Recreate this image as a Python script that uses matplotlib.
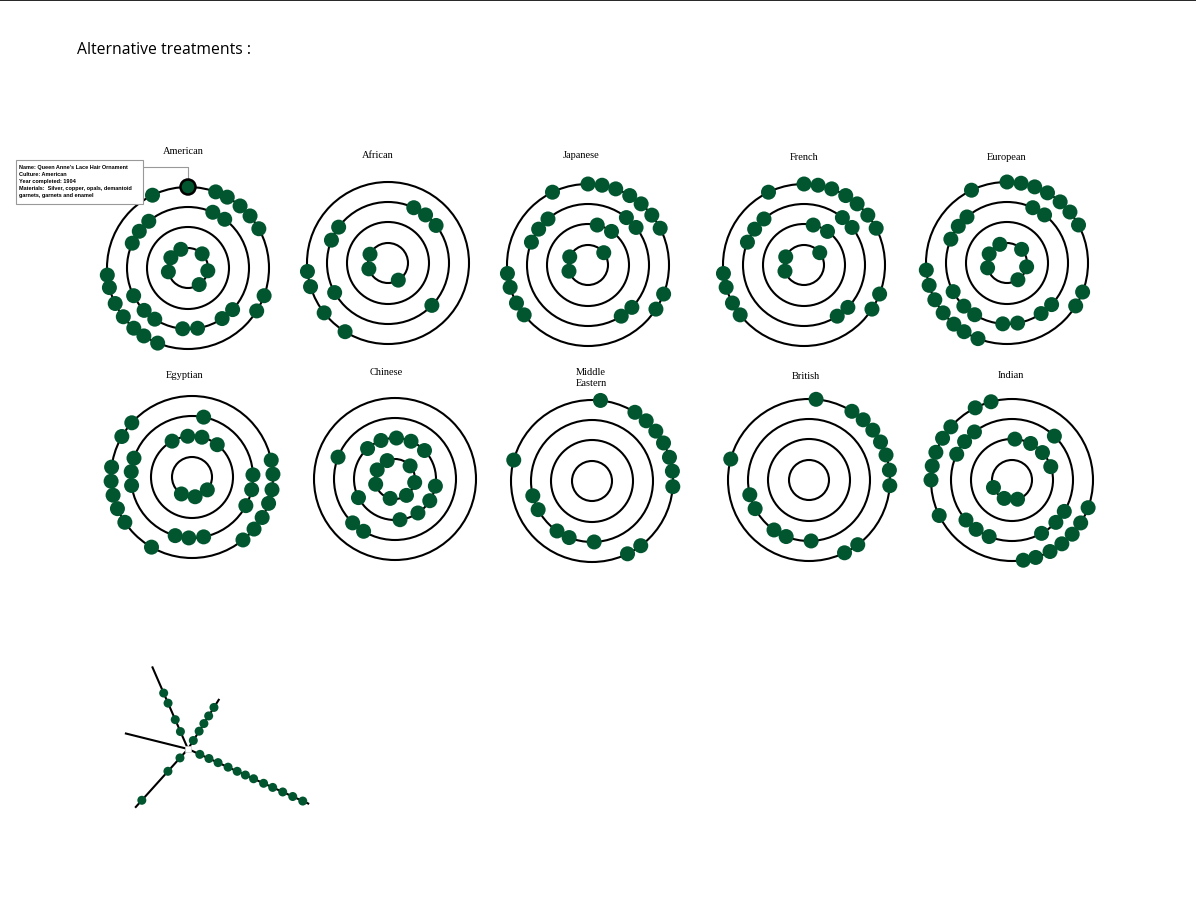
import math
import matplotlib
matplotlib.use("Agg")
import matplotlib.pyplot as plt
from matplotlib.patches import Circle, Rectangle

# ---- data: dot angles (deg, clockwise from 12 o'clock) per ring ----
# ring order: inner, 2nd, 3rd, outer
cultures = ["American", "African", "Japanese", "French", "European",
            "Egyptian", "Chinese", "Middle\nEastern", "British", "Indian"]

american = [[339, 301, 259, 45, 98, 146],
            [],
            [24, 37, 320, 307, 294, 243, 226, 213, 185, 171, 146, 133],
            [334, 0, 20, 29, 40, 50, 61, 110, 122, 202, 213, 222, 233, 244, 256, 265]]
african = [[296, 253, 149],
           [],
           [25, 38, 52, 306, 292, 241, 134],
           [264, 253, 232, 212]]
japanese = [[52, 294, 252],
            [13, 35],
            [39, 52, 319, 306, 292, 147, 134],
            [334, 0, 10, 20, 31, 41, 52, 63, 111, 123, 232, 242, 254, 264]]
french = [[52, 294, 252],
          [13, 35],
          [39, 52, 319, 306, 292, 147, 134],
          [334, 0, 10, 20, 31, 41, 52, 63, 111, 123, 232, 242, 254, 264]]
european = [[339, 297, 256, 47, 101, 147],
            [],
            [25, 38, 319, 307, 293, 242, 225, 212, 184, 170, 146, 133],
            [334, 0, 10, 20, 30, 41, 51, 62, 111, 122, 201, 212, 221, 232, 243, 254, 265]]
egyptian = [[212, 171, 130],
            [331, 354, 14, 38],
            [11, 288, 275, 262, 196, 183, 169, 88, 102, 118],
            [312, 300, 277, 267, 257, 247, 236, 210, 78, 88, 99, 109, 120, 130, 141]]
chinese = [[337, 297, 255, 194, 145, 100, 49],
           [318, 340, 2, 23, 46, 100, 122, 146, 173, 243],
           [291, 224, 211],
           []]
middle_eastern = [[],
                  [],
                  [256, 242, 215, 202, 178],
                  [6, 32, 42, 52, 62, 73, 83, 94, 143, 154, 285]]
british = [[],
           [],
           [256, 242, 215, 202, 178],
           [5, 32, 42, 52, 62, 72, 83, 94, 143, 154, 285]]
indian = [[248, 203, 164],
          [4, 27, 48, 71],
          [44, 322, 309, 295, 229, 216, 202, 151, 134, 121],
          [345, 333, 311, 301, 290, 280, 270, 244, 110, 122, 132, 142, 152, 163, 172]]
culture_dots = [american, african, japanese, french, european,
                egyptian, chinese, middle_eastern, british, indian]

tooltip_lines = ["Name: Queen Anne's Lace Hair Ornament",
                 "Culture: American",
                 "Year completed: 1904",
                 "Materials:  Silver, copper, opals, demantoid",
                 "garnets, garnets and enamel"]

# spoke chart at the bottom: direction (deg, ccw from east), length, dot distances
spoke_angles = [113.5, 58, 166, 228, 335.6]
spoke_lengths = [89, 58, 64, 78, 132]
spoke_dots = [[19, 32, 50, 61],
              [10, 21, 30, 39, 49],
              [],
              [12, 30, 69],
              [13, 23, 33, 44, 54, 63, 72, 83, 93, 104, 115, 126]]

GREEN = "#01562f"
ring_radii = [20, 41, 61, 81]
dot_r = 7.5

# (center x, center y, title x, title y) per panel
layout = [(188, 268, 183, 152), (388, 263, 378, 155), (588, 265, 581, 155),
          (804, 265, 804, 158), (1007, 263, 1007, 158),
          (192, 477, 185, 375), (395, 479, 386, 372), (592, 481, 591, 378),
          (809, 480, 806, 376), (1012, 480, 1011, 375)]

fig = plt.figure(figsize=(11.96, 9.22), dpi=100)
ax = fig.add_axes([0, 0, 1, 1])
ax.set_xlim(0, 1196)
ax.set_ylim(922, 0)
ax.axis("off")

ax.plot([0, 1196], [0.5, 0.5], color="black", lw=1.2)
ax.text(77, 50, "Alternative treatments :", fontsize=11.3, family="Open Sans",
        fontweight="medium", ha="left", va="center", color="black")

for name, rings, (cx, cy, tx, ty) in zip(cultures, culture_dots, layout):
    ax.text(tx, ty, name, fontsize=7.5, family="Liberation Serif", ha="center",
            va="center", linespacing=1.25)
    for r in ring_radii:
        ax.add_patch(Circle((cx, cy), r, fill=False, ec="black", lw=1.5, zorder=2))
    for r, angles in zip(ring_radii, rings):
        for a in angles:
            t = math.radians(a)
            x = cx + r * math.sin(t)
            y = cy - r * math.cos(t)
            ax.add_patch(Circle((x, y), dot_r, color=GREEN, lw=0, zorder=3))

# highlighted dot + tooltip on American
hx, hy = layout[0][0], layout[0][1] - ring_radii[3]
ax.add_patch(Circle((hx, hy), dot_r, fc=GREEN, ec="black", lw=1.8, zorder=4))
ax.plot([143, hx, hx], [167, 167, hy - dot_r], color="#999999", lw=0.8, zorder=3)
ax.add_patch(Rectangle((16, 160), 127, 44, fc="white", ec="#999999", lw=0.8, zorder=5))
for i, line in enumerate(tooltip_lines):
    ax.text(19, 167 + i * 7.2, line, fontsize=4, fontweight="bold",
            family="Liberation Sans", ha="left", va="center", zorder=6)

# spoke chart
sx, sy = 188, 749
for ang, ln, dots in zip(spoke_angles, spoke_lengths, spoke_dots):
    ux, uy = math.cos(math.radians(ang)), -math.sin(math.radians(ang))
    ax.plot([sx, sx + ux * ln], [sy, sy + uy * ln], color="black", lw=1.5, zorder=2)
    for d in dots:
        ax.add_patch(Circle((sx + ux * d, sy + uy * d), 4.5, color=GREEN, lw=0, zorder=3))
ax.add_patch(Rectangle((sx - 3, sy - 3), 6, 6, fc="white", ec="#cccccc", lw=0.5, zorder=4))

fig.savefig("out.png", dpi=100)
